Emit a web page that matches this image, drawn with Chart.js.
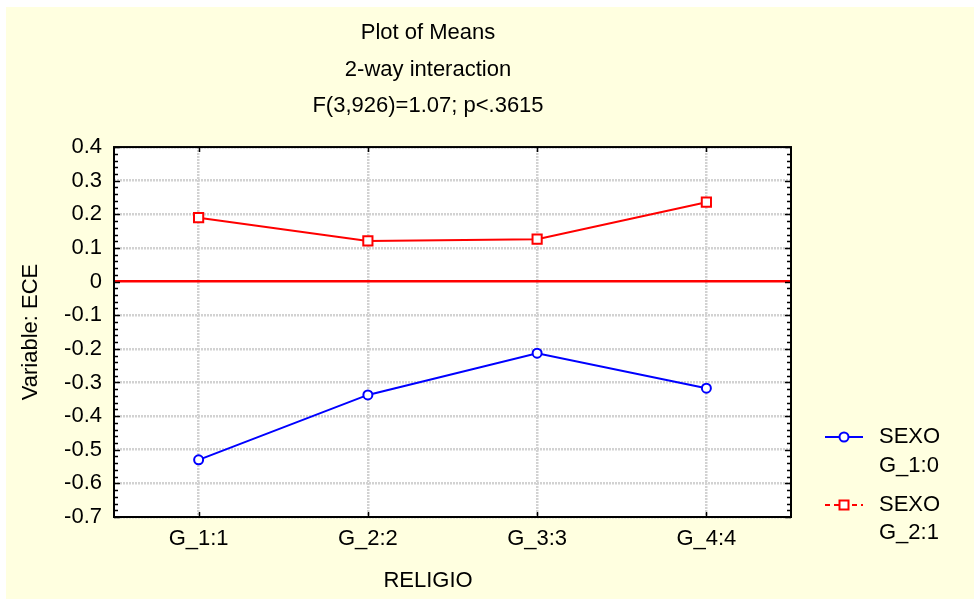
<!DOCTYPE html>
<html>
<head>
<meta charset="utf-8">
<script src="https://cdn.jsdelivr.net/npm/chart.js@4.4.0/dist/chart.umd.min.js"></script>
<style>
  html, body { margin: 0; padding: 0; background: #fff; }
  canvas { display: block; }
</style>
</head>
<body>
<canvas id="grafica" width="974" height="600"></canvas>
<script>
const categorias = ['G_1:1', 'G_2:2', 'G_3:3', 'G_4:4'];
const sexo0 = [-0.530, -0.337, -0.213, -0.317];
const sexo1 = [0.190, 0.121, 0.126, 0.236];
const titulos = ['Plot of Means', '2-way interaction', 'F(3,926)=1.07; p<.3615'];
const etiquetaY = 'Variable: ECE';
const etiquetaX = 'RELIGIO';
const leyenda = [['SEXO', 'G_1:0'], ['SEXO', 'G_2:1']];

const fuente = "'Liberation Sans', Arial, sans-serif";
Chart.defaults.font.family = fuente;
Chart.defaults.font.size = 22;
Chart.defaults.color = '#000';

const esCero = (ctx) => ctx.tick && Math.abs(ctx.tick.value) < 1e-9;

// fondo amarillo + area blanca
const fondo = {
  id: 'fondo',
  beforeDraw(chart) {
    const c = chart.ctx, a = chart.chartArea;
    c.save();
    c.fillStyle = '#fff';
    c.fillRect(0, 0, chart.width, chart.height);
    c.fillStyle = '#ffffe0';
    c.fillRect(6, 7, chart.width - 6, chart.height - 8);
    c.fillStyle = '#fff';
    c.fillRect(a.left, a.top, a.right - a.left, a.bottom - a.top);
    c.restore();
  }
};

// marco, marcas menores, leyenda y titulo del eje x
const extras = {
  id: 'extras',
  afterDraw(chart) {
    const c = chart.ctx, a = chart.chartArea;
    const ys = chart.scales.y, xs = chart.scales.x;
    c.save();
    c.strokeStyle = '#000';
    c.lineWidth = 2;
    c.strokeRect(a.left, a.top, a.right - a.left, a.bottom - a.top);

    c.lineWidth = 1.5;
    c.beginPath();
    for (let i = 0; i <= 55; i++) {
      const y = Math.round(ys.getPixelForValue(ys.min + i * 0.02)) + 0.5;
      const len = i % 5 === 0 ? 6 : 4;
      c.moveTo(a.left, y); c.lineTo(a.left + len, y);
      c.moveTo(a.right, y); c.lineTo(a.right - len, y);
    }
    categorias.forEach((_, i) => {
      const x = Math.round(xs.getPixelForValue(i)) + 0.5;
      c.moveTo(x, a.bottom); c.lineTo(x, a.bottom - 5);
      c.moveTo(x, a.top); c.lineTo(x, a.top + 5);
    });
    c.stroke();

    // leyenda
    c.lineWidth = 2;
    c.strokeStyle = '#0000ff';
    c.beginPath(); c.moveTo(825, 437); c.lineTo(863, 437); c.stroke();
    c.fillStyle = '#fff';
    c.beginPath(); c.arc(844, 437, 4.5, 0, Math.PI * 2); c.fill(); c.stroke();

    c.strokeStyle = '#ff0000';
    c.setLineDash([5, 4]);
    c.beginPath(); c.moveTo(825, 505); c.lineTo(863, 505); c.stroke();
    c.setLineDash([]);
    c.fillRect(839.5, 500.5, 9, 9); c.strokeRect(839.5, 500.5, 9, 9);

    c.fillStyle = '#000';
    c.font = '22px ' + fuente;
    c.textBaseline = 'middle';
    c.textAlign = 'left';
    c.fillText(leyenda[0][0], 879, 437);
    c.fillText(leyenda[0][1], 879, 466);
    c.fillText(leyenda[1][0], 879, 505);
    c.fillText(leyenda[1][1], 879, 533);

    c.textAlign = 'center';
    c.fillText(etiquetaX, 428, 581);
    c.restore();
  }
};

const ctx = document.getElementById('grafica').getContext('2d');
const chart = new Chart(ctx, {
  type: 'line',
  data: {
    labels: categorias,
    datasets: [
      {
        label: 'SEXO G_1:0',
        data: sexo0,
        borderColor: '#0000ff',
        borderWidth: 2,
        pointStyle: 'circle',
        pointRadius: 4.5,
        pointBorderWidth: 2,
        pointBorderColor: '#0000ff',
        pointBackgroundColor: '#fff',
        tension: 0
      },
      {
        label: 'SEXO G_2:1',
        data: sexo1,
        borderColor: '#ff0000',
        borderWidth: 2,
        pointStyle: 'rect',
        pointRadius: 6.5,
        pointBorderWidth: 2,
        pointBorderColor: '#ff0000',
        pointBackgroundColor: '#fff',
        tension: 0
      }
    ]
  },
  options: {
    responsive: false,
    animation: false,
    events: [],
    layout: { padding: { left: 14, right: 132, top: 0, bottom: 0 } },
    plugins: {
      legend: { display: false },
      tooltip: { enabled: false },
      title: {
        display: true,
        text: titulos,
        color: '#000',
        font: { size: 22, weight: 'normal', lineHeight: 1.66 },
        padding: { top: 15, bottom: 22.5 }
      }
    },
    scales: {
      x: {
        type: 'category',
        offset: true,
        grid: { offset: false, color: '#d2d2d2', lineWidth: 2.5, drawTicks: false },
        border: { display: false, dash: [2, 1] },
        ticks: { padding: 9, maxRotation: 0, autoSkip: false },
        afterFit(s) { s.height = 83; }
      },
      y: {
        min: -0.7,
        max: 0.4,
        ticks: { stepSize: 0.1, padding: 12 },
        grid: {
          color: (c) => esCero(c) ? '#ff0000' : '#d2d2d2',
          lineWidth: 2.5,
          drawTicks: false
        },
        border: { display: false, dash: (c) => esCero(c) ? [] : [2, 1] },
        title: { display: true, text: etiquetaY, font: { size: 22 } },
        afterFit(s) { s.width = 100; }
      },
      y2: {
        position: 'right',
        min: -0.7,
        max: 0.4,
        ticks: { display: false },
        grid: { display: false },
        border: { display: false },
        afterFit(s) { s.width = 51; }
      }
    }
  },
  plugins: [fondo, extras]
});
</script>
</body>
</html>
